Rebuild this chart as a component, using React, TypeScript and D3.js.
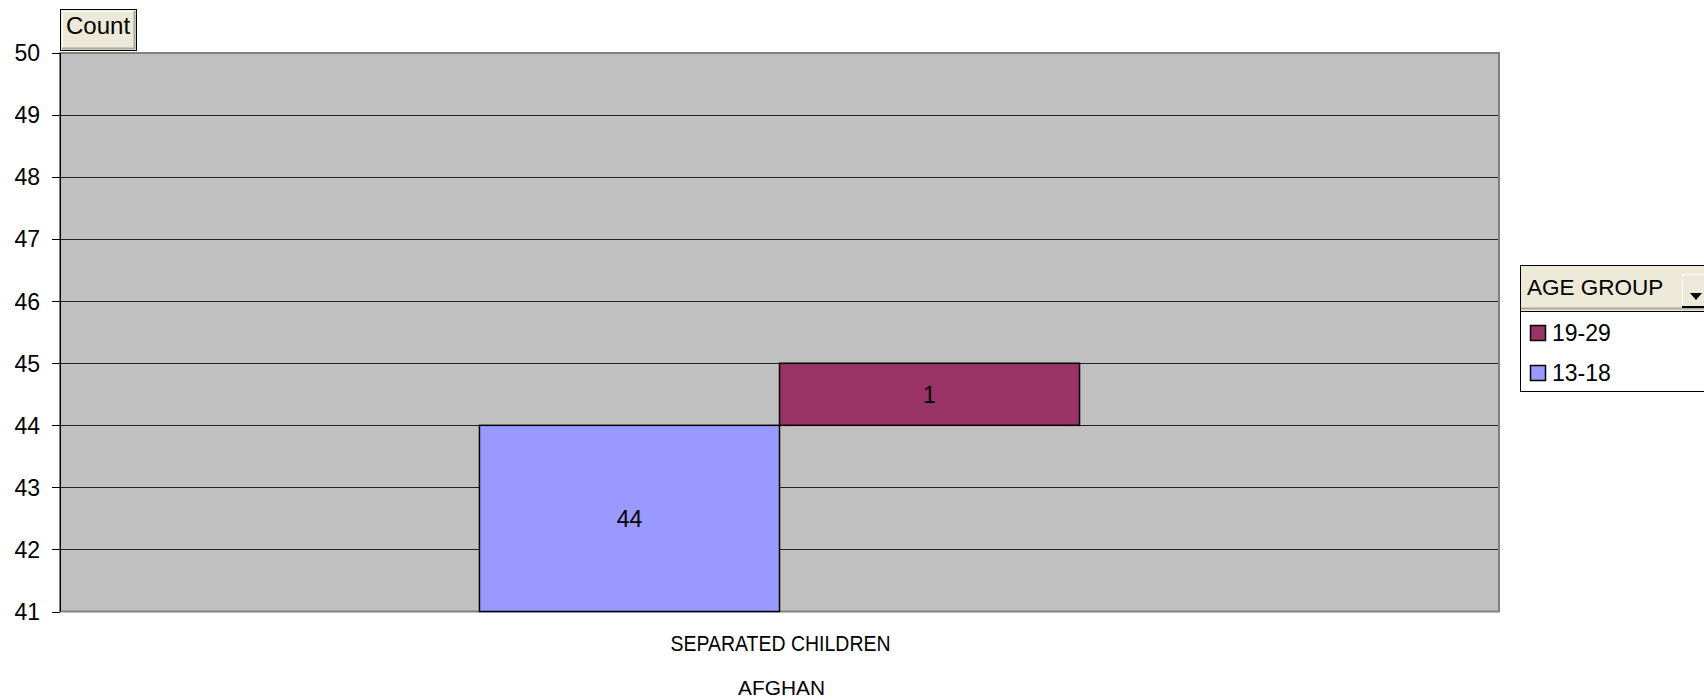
import React from "react";
import * as d3 from "d3";

// Pivot chart data: one category, two age groups stacked
const categories = ["SEPARATED CHILDREN"];
const outerCategory = "AFGHAN";
const seriesKeys = ["13-18", "19-29"];
const seriesValues = [44, 1];
const seriesColors = ["#9999FF", "#993366"];
const legendOrder = ["19-29", "13-18"];
const yTicks = [41, 42, 43, 44, 45, 46, 47, 48, 49, 50];
const yTitle = "Count";
const legendTitle = "AGE GROUP";

const W = 1704;
const H = 700;
const FONT = "'Liberation Sans', Arial, Helvetica, sans-serif";

export default function App() {
  const plot = { left: 60, right: 1499, top: 53, bottom: 611.5 };

  const y = d3
    .scaleLinear()
    .domain([d3.min(yTicks)!, d3.max(yTicks)!])
    .range([plot.bottom, plot.top]);

  const x0 = d3.scaleBand<string>().domain(categories).range([plot.left, plot.right]);

  const row: Record<string, number> = {};
  seriesKeys.forEach((k, i) => (row[k] = seriesValues[i]));
  const stacked = d3.stack<Record<string, number>>().keys(seriesKeys)([row]);

  const color = d3.scaleOrdinal<string, string>().domain(seriesKeys).range(seriesColors);

  const cat = categories[0];
  const groupCenter = x0(cat)! + x0.bandwidth() / 2;
  const groupWidth = x0.bandwidth() * 0.417;
  const x1 = d3
    .scaleBand<string>()
    .domain(seriesKeys)
    .range([groupCenter - groupWidth / 2, groupCenter + groupWidth / 2]);

  const yMin = y.domain()[0];

  return (
    <svg
      width={W}
      height={H}
      style={{ position: "absolute", left: 0, top: 0, display: "block", background: "#fff" }}
      fontFamily={FONT}
    >
      {/* plot area */}
      <rect
        x={plot.left}
        y={plot.top}
        width={plot.right - plot.left}
        height={plot.bottom - plot.top}
        fill="#C0C0C0"
        stroke="#808080"
        strokeWidth={2}
      />
      {/* gridlines */}
      {yTicks.slice(1, -1).map((t) => (
        <line
          key={"g" + t}
          x1={plot.left}
          x2={plot.right - 1}
          y1={Math.round(y(t)) + 0.5}
          y2={Math.round(y(t)) + 0.5}
          stroke="#222"
          strokeWidth={1}
        />
      ))}
      {/* y axis */}
      <line x1={plot.left + 0.5} x2={plot.left + 0.5} y1={plot.top} y2={plot.bottom} stroke="#000" />
      {yTicks.map((t) => (
        <g key={"t" + t}>
          <line
            x1={52}
            x2={plot.left}
            y1={Math.round(y(t)) + 0.5}
            y2={Math.round(y(t)) + 0.5}
            stroke="#000"
          />
          <text x={40} y={y(t)} dy="0.36em" textAnchor="end" fontSize={23} fill="#000">
            {t}
          </text>
        </g>
      ))}

      {/* bars */}
      {stacked.map((s) => {
        const d = s[0];
        const lo = Math.max(d[0], yMin);
        const hi = d[1];
        const bx = x1(s.key)!;
        const bw = x1.bandwidth();
        const top = y(hi);
        const bot = y(lo);
        const val = d[1] - d[0];
        return (
          <g key={s.key}>
            <rect
              x={bx}
              y={top}
              width={bw}
              height={bot - top}
              fill={color(s.key)}
              stroke="#000"
              strokeWidth={1.5}
            />
            <text
              x={bx + bw / 2}
              y={(top + bot) / 2}
              dy="0.36em"
              textAnchor="middle"
              fontSize={23}
              fill="#000"
            >
              {val}
            </text>
          </g>
        );
      })}

      {/* category labels */}
      <text
        x={groupCenter + 1}
        y={651}
        textAnchor="middle"
        fontSize={22}
        textLength={220}
        lengthAdjust="spacingAndGlyphs"
        fill="#000"
      >
        {cat}
      </text>
      <text
        x={groupCenter + 2}
        y={695}
        textAnchor="middle"
        fontSize={21}
        textLength={87}
        lengthAdjust="spacingAndGlyphs"
        fill="#000"
      >
        {outerCategory}
      </text>

      {/* y field button */}
      <g>
        <rect x={60.5} y={9.5} width={76} height={41} fill="#ECE9D8" stroke="#000" />
        <line x1={62} x2={134} y1={11.5} y2={11.5} stroke="#fff" />
        <line x1={62.5} x2={62.5} y1={11} y2={48} stroke="#fff" />
        <line x1={134.5} x2={134.5} y1={11} y2={49} stroke="#ACA899" strokeWidth={2} />
        <line x1={62} x2={135} y1={48.5} y2={48.5} stroke="#ACA899" strokeWidth={2} />
        <text x={66} y={34} fontSize={24} fill="#000">
          {yTitle}
        </text>
      </g>

      {/* legend */}
      <g>
        <rect x={1520.5} y={265.5} width={200} height={126} fill="#fff" stroke="#000" />
        <rect x={1521} y={266} width={190} height={45} fill="#ECE9D8" />
        <line x1={1521} x2={1704} y1={308.5} y2={308.5} stroke="#ACA899" strokeWidth={2} />
        <line x1={1521} x2={1704} y1={311.5} y2={311.5} stroke="#000" />
        <text x={1527} y={295} fontSize={22.5} fill="#000">
          {legendTitle}
        </text>
        {/* dropdown button */}
        <rect x={1682} y={274} width={30} height={33} fill="#ECE9D8" />
        <line x1={1682.5} x2={1682.5} y1={274} y2={307} stroke="#fff" />
        <line x1={1682} x2={1704} y1={274.5} y2={274.5} stroke="#fff" />
        <line x1={1682} x2={1704} y1={307} y2={307} stroke="#000" strokeWidth={2} />
        <path d="M1690,293 L1702,293 L1696,300 Z" fill="#000" />
        {legendOrder.map((k, i) => {
          const cy = 333 + i * 40;
          return (
            <g key={"l" + k}>
              <rect x={1530.5} y={cy - 7.5} width={15} height={15} fill={color(k)} stroke="#000" strokeWidth={1.5} />
              <text x={1552} y={cy} dy="0.36em" fontSize={23} fill="#000">
                {k}
              </text>
            </g>
          );
        })}
      </g>
    </svg>
  );
}
